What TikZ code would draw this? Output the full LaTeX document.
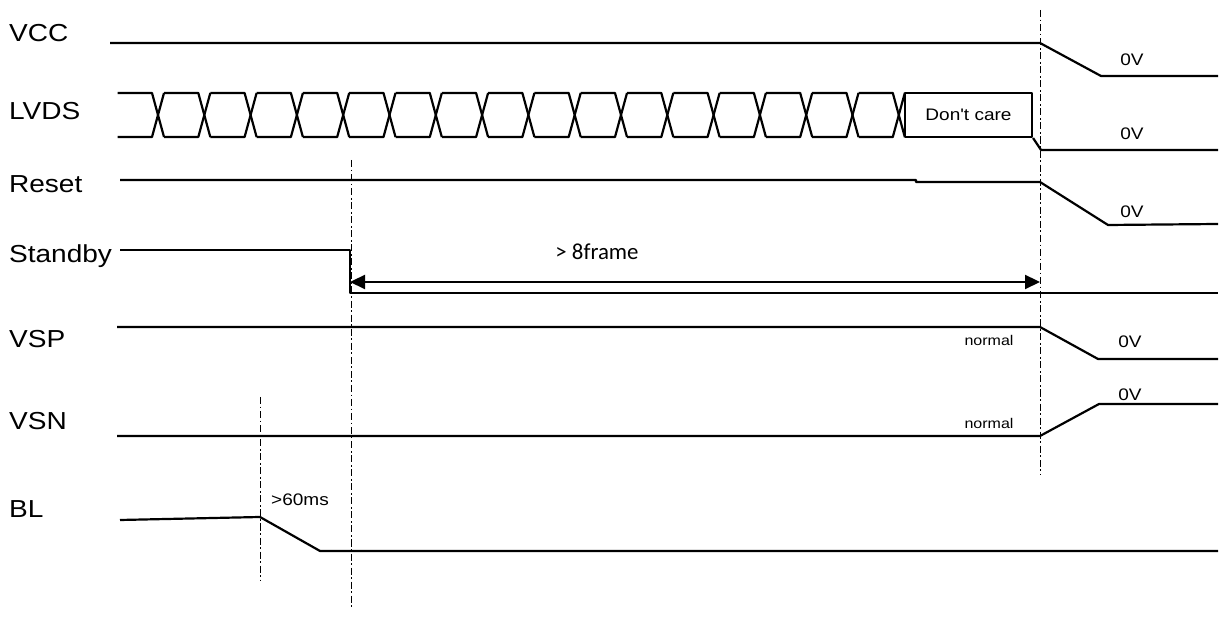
\documentclass[tikz,border=0pt]{standalone}
\usepackage{fontspec}
\usepackage{tikz}
\usetikzlibrary{arrows.meta}
\newfontfamily\sigfont[FakeStretch=1.14]{Liberation Sans}
\newfontfamily\notefont{Carlito}

\begin{document}
\begin{tikzpicture}[x=0.02cm,y=-0.02cm,>={Triangle[length=0.3cm,width=0.28cm]},
                    line width=1.25pt,line join=round]
  \tikzstyle{signame}=[anchor=base west,inner sep=0pt,font=\sigfont\fontsize{14}{16}\selectfont]
  \tikzstyle{level}=[inner sep=0pt,font=\sigfont\fontsize{9.5}{11}\selectfont]
  \tikzstyle{tag}=[inner sep=0pt,font=\sigfont\fontsize{8}{10}\selectfont]
  \tikzstyle{marker}=[line width=0.5pt,dash pattern=on 4pt off 1.5pt on 1pt off 1.5pt]

  \useasboundingbox (0,0) rectangle (1228,644);

  \node[signame] (vcc)     at (8,42)  {VCC};
  \node[signame] (lvds)    at (8,120) {LVDS};
  \node[signame] (reset)   at (8,193) {Reset};
  \node[signame] (standby) at (8,263) {Standby};
  \node[signame] (vsp)     at (8,348) {VSP};
  \node[signame] (vsn)     at (8,430) {VSN};
  \node[signame] (bl)      at (8,518) {BL};

  \draw[marker] (260,397) -- (260,580);
  \draw[marker] (351,160) -- (351,608);
  \draw[marker] (1040,10) -- (1040,475);

  \draw (110,43) -- (1040,43) -- (1101,76) -- (1218,76);
  \node[level] (vcc0) at (1132,60) {0V};

  \foreach \i in {0,...,16} {
    \pgfmathsetmacro\c{158+46.3*\i}
    \draw (\c-40.3,93) -- (\c-6,93) -- (\c+6,137);
    \draw (\c-40.3,137) -- (\c-6,137) -- (\c+6,93);
  }
  \node[draw,inner sep=0pt,minimum width=2.54cm,minimum height=0.88cm,
        font=\sigfont\fontsize{9.5}{11}\selectfont] (dc) at (968.5,115) {Don't care};
  \coordinate (lvdslow) at (1041,150);
  \draw (dc.south east) -- (lvdslow) -- (1218,150);
  \node[level] (lvds0) at (1132,134) {0V};

  \draw (120,180) -- (916,180) -- (916,182) -- (1040,182) -- (1108,225) -- (1218,224);
  \node[level] (reset0) at (1132,212) {0V};

  \draw (120,250) -- (350,250) -- (350,293) -- (1218,293);
  \coordinate (t0) at (350,282);
  \coordinate (t1) at (1040,282);
  \draw[<->] (t0) -- (t1);
  \node[font=\notefont\fontsize{13}{15}\selectfont] (frames) at (597,252) {> 8frame};

  \draw (117,327) -- (1040,327) -- (1098,359) -- (1218,359);
  \node[tag] (vspn) at (989,340) {normal};
  \node[level] (vsp0) at (1130,342) {0V};

  \draw (117,436) -- (1040,436) -- (1099,404) -- (1218,404);
  \node[tag] (vsnn) at (989,423) {normal};
  \node[level] (vsn0) at (1130,395) {0V};

  \draw (120,520) -- (260,517) -- (320,551) -- (1218,551);
  \node[level] (delay) at (300,500) {>60ms};
\end{tikzpicture}
\end{document}
